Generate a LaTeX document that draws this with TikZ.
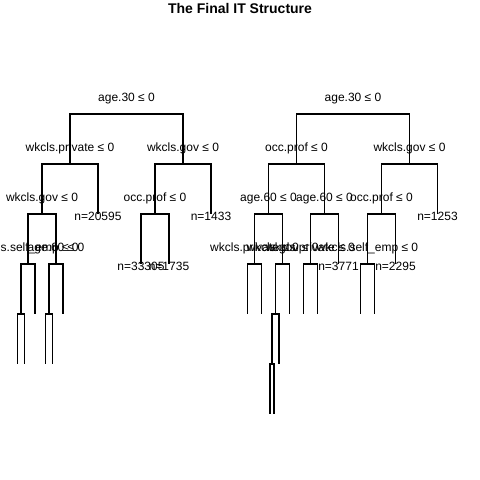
\documentclass[tikz,border=0pt]{standalone}
\usepackage{fontspec}
\setmainfont{Liberation Sans}
\usepackage{tikz}
\usetikzlibrary{positioning}

\begin{document}
\begin{tikzpicture}[x=1pt,y=-1pt,line width=1.1pt,
    splitlabel/.style={font=\fontsize{12}{14}\selectfont, inner sep=0pt, above=9pt},
    leaflabel/.style={font=\fontsize{12}{14}\selectfont, inner sep=0pt, anchor=center, yshift=-2.5pt}]
    \useasboundingbox (0,0) rectangle (480,480);
    % Title
    \node[font=\fontsize{14}{16}\selectfont\bfseries] (title) at (240,8) {The Final IT Structure};

    % Left tree, split points
    \coordinate (L) at (126.5,114);
    \coordinate (L1) at (70,164);
    \coordinate (L2) at (183,164);
    \coordinate (L11) at (42,214);
    \coordinate (L12) at (98,214);
    \coordinate (L21) at (155,214);
    \coordinate (L22) at (211,214);
    \coordinate (L111) at (28,264);
    \coordinate (L112) at (56,264);
    \coordinate (L211) at (141,264);
    \coordinate (L212) at (169,264);
    \coordinate (L1111) at (21,314);
    \coordinate (L1112) at (35,314);
    \coordinate (L1121) at (49,314);
    \coordinate (L1122) at (63,314);
    \coordinate (L11111) at (17.5,364);
    \coordinate (L11112) at (24.5,364);
    \coordinate (L11211) at (45.5,364);
    \coordinate (L11212) at (52.5,364);

    % Right tree, split points
    \coordinate (R) at (353,114);
    \coordinate (R1) at (296.5,164);
    \coordinate (R2) at (409.5,164);
    \coordinate (R11) at (268.5,214);
    \coordinate (R12) at (324.5,214);
    \coordinate (R21) at (381.5,214);
    \coordinate (R22) at (437.5,214);
    \coordinate (R111) at (254.5,264);
    \coordinate (R112) at (282.5,264);
    \coordinate (R121) at (310.5,264);
    \coordinate (R122) at (338.5,264);
    \coordinate (R211) at (367.5,264);
    \coordinate (R212) at (395.5,264);
    \coordinate (R1111) at (247.5,314);
    \coordinate (R1112) at (261.5,314);
    \coordinate (R1121) at (275.5,314);
    \coordinate (R1122) at (289.5,314);
    \coordinate (R1211) at (303.5,314);
    \coordinate (R1212) at (317.5,314);
    \coordinate (R2111) at (360.5,314);
    \coordinate (R2112) at (374.5,314);
    \coordinate (R11211) at (272,364);
    \coordinate (R11212) at (279,364);
    \coordinate (R112111) at (270,414);
    \coordinate (R112112) at (274,414);

    % Branches
    \foreach \p/\c in {L/L1,L/L2,L1/L11,L1/L12,L2/L21,L2/L22,L11/L111,L11/L112,
        L21/L211,L21/L212,L111/L1111,L111/L1112,L112/L1121,L112/L1122,
        L1111/L11111,L1111/L11112,L1121/L11211,L1121/L11212,
        R/R1,R/R2,R1/R11,R1/R12,R2/R21,R2/R22,R11/R111,R11/R112,R12/R121,R12/R122,
        R21/R211,R21/R212,R111/R1111,R111/R1112,R112/R1121,R112/R1122,
        R121/R1211,R121/R1212,R211/R2111,R211/R2112,R1121/R11211,R1121/R11212,
        R11211/R112111,R11211/R112112}
        \draw (\p) -| (\c);

    % Split labels
    \node[splitlabel] (lab-L) at (L) {age.30 ≤ 0};
    \node[splitlabel] (lab-L1) at (L1) {wkcls.private ≤ 0};
    \node[splitlabel] (lab-L2) at (L2) {wkcls.gov ≤ 0};
    \node[splitlabel] (lab-L11) at (L11) {wkcls.gov ≤ 0};
    \node[splitlabel] (lab-L21) at (L21) {occ.prof ≤ 0};
    \node[splitlabel] (lab-L111) at (L111) {wkcls.self\_emp ≤ 0};
    \node[splitlabel] (lab-L112) at (L112) {age.60 ≤ 0};
    \node[splitlabel] (lab-R) at (R) {age.30 ≤ 0};
    \node[splitlabel] (lab-R1) at (R1) {occ.prof ≤ 0};
    \node[splitlabel] (lab-R2) at (R2) {wkcls.gov ≤ 0};
    \node[splitlabel] (lab-R11) at (R11) {age.60 ≤ 0};
    \node[splitlabel] (lab-R12) at (R12) {age.60 ≤ 0};
    \node[splitlabel] (lab-R21) at (R21) {occ.prof ≤ 0};
    \node[splitlabel] (lab-R111) at (R111) {wkcls.private ≤ 0};
    \node[splitlabel] (lab-R112) at (R112) {wkcls.gov ≤ 0};
    \node[splitlabel] (lab-R121) at (R121) {wkcls.private ≤ 0};
    \node[splitlabel] (lab-R211) at (R211) {wkcls.self\_emp ≤ 0};

    % Leaf sizes
    \node[leaflabel] (n-L12) at (L12) {n=20595};
    \node[leaflabel] (n-L22) at (L22) {n=1433};
    \node[leaflabel] (n-L211) at (L211) {n=33305};
    \node[leaflabel] (n-L212) at (L212) {n=1735};
    \node[leaflabel] (n-R22) at (R22) {n=1253};
    \node[leaflabel] (n-R122) at (R122) {n=3771};
    \node[leaflabel] (n-R212) at (R212) {n=2295};
\end{tikzpicture}
\end{document}
